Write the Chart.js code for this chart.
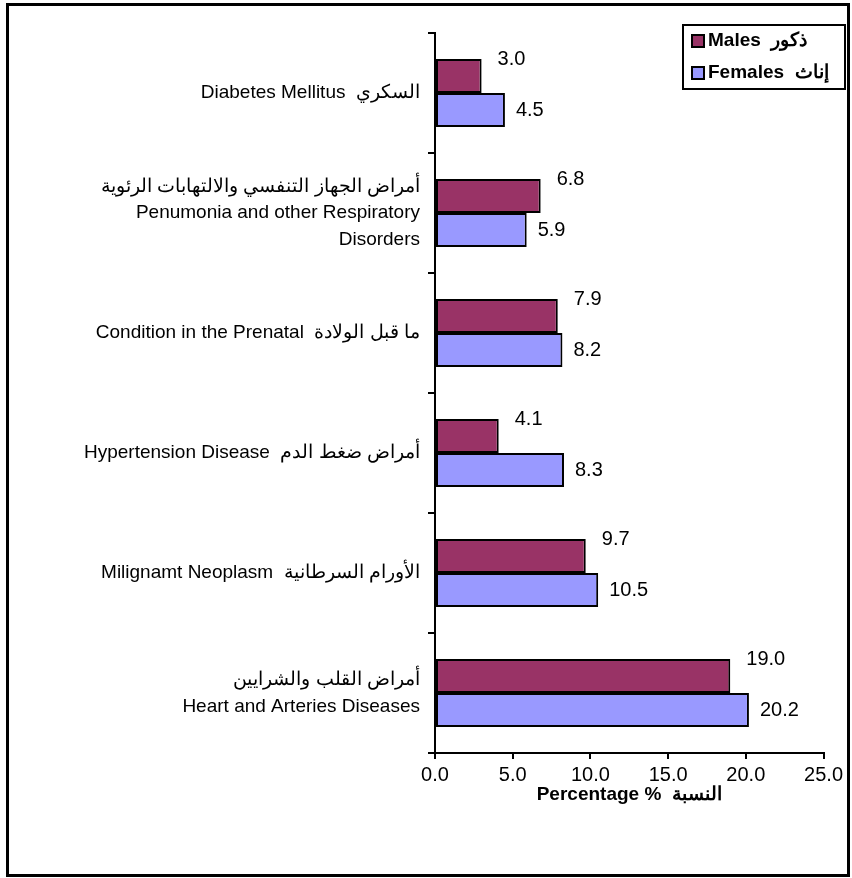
<!DOCTYPE html>
<html>
<head>
<meta charset="utf-8">
<script src="https://cdn.jsdelivr.net/npm/chart.js@4/dist/chart.umd.min.js"></script>
<style>
  body { margin: 0; background: #fff; }
  #frame { position: absolute; left: 6px; top: 3px; width: 838px; height: 868px; border: 3px solid #000; }
  canvas { display: block; }
</style>
</head>
<body>
<div id="frame"><canvas id="barChart" width="838" height="868"></canvas></div>
<script>
// Categories (top to bottom), English + Arabic
const categories = [
  'Diabetes Mellitus  السكري',
  ['أمراض الجهاز التنفسي والالتهابات الرئوية', 'Penumonia and other Respiratory', 'Disorders'],
  'Condition in the Prenatal  ما قبل الولادة',
  'Hypertension Disease  أمراض ضغط الدم',
  'Milignamt Neoplasm  الأورام السرطانية',
  ['أمراض القلب والشرايين', 'Heart and Arteries Diseases']
];
const malesValues = [3.0, 6.8, 7.9, 4.1, 9.7, 19.0];
const femalesValues = [4.5, 5.9, 8.2, 8.3, 10.5, 20.2];
const seriesNames = ['Males  ذكور', 'Females  إناث'];
const xTicks = [0, 5, 10, 15, 20, 25];
const axisTitle = 'Percentage %  النسبة';

const FONT = '"Liberation Sans", Arial, sans-serif';

// labels next to each bar
const valueLabels = {
  id: 'valueLabels',
  afterDatasetsDraw(chart) {
    const ctx = chart.ctx;
    ctx.save();
    ctx.font = '20px ' + FONT;
    ctx.fillStyle = '#000';
    ctx.textBaseline = 'middle';
    ctx.textAlign = 'left';
    chart.data.datasets.forEach((ds, i) => {
      chart.getDatasetMeta(i).data.forEach((bar, j) => {
        const dx = i === 0 ? 16 : 11;
        const dy = i === 0 ? -17 : 0;
        ctx.fillText(ds.data[j].toFixed(1), bar.x + dx, bar.y + dy);
      });
    });
    ctx.restore();
  }
};

// boxed legend in the top right corner
const boxLegend = {
  id: 'boxLegend',
  afterDraw(chart) {
    const ctx = chart.ctx;
    const x = 674, y = 19, w = 162, h = 64;
    ctx.save();
    ctx.fillStyle = '#fff';
    ctx.fillRect(x, y, w, h);
    ctx.lineWidth = 2;
    ctx.strokeStyle = '#000';
    ctx.strokeRect(x, y, w, h);
    ctx.font = 'bold 19px ' + FONT;
    ctx.textBaseline = 'middle';
    chart.data.datasets.forEach((ds, i) => {
      const cy = y + 16 + i * 32;
      ctx.fillStyle = ds.backgroundColor;
      ctx.fillRect(x + 9, cy - 6, 12, 12);
      ctx.strokeRect(x + 9, cy - 6, 12, 12);
      ctx.fillStyle = '#000';
      ctx.fillText(ds.label, x + 25, cy);
    });
    ctx.restore();
  }
};

const ctx = document.getElementById('barChart').getContext('2d');
const barChart = new Chart(ctx, {
  type: 'bar',
  data: {
    labels: categories,
    datasets: [{
      label: seriesNames[0],
      data: malesValues,
      backgroundColor: '#993366',
      borderColor: '#000',
      borderWidth: 2,
      borderSkipped: false
    }, {
      label: seriesNames[1],
      data: femalesValues,
      backgroundColor: '#9999FF',
      borderColor: '#000',
      borderWidth: 2,
      borderSkipped: false
    }]
  },
  options: {
    indexAxis: 'y',
    responsive: false,
    animation: false,
    categoryPercentage: 0.567,
    barPercentage: 1.0,
    layout: { padding: { left: 0, top: 27, right: 20, bottom: 65 } },
    plugins: {
      legend: { display: false },
      tooltip: { enabled: false }
    },
    scales: {
      x: {
        min: xTicks[0],
        max: xTicks[xTicks.length - 1],
        afterBuildTicks: (scale) => { scale.ticks = xTicks.map(v => ({ value: v })); },
        afterFit: (scale) => { scale.height = 56; },
        border: { color: '#000', width: 2 },
        grid: { drawOnChartArea: false, drawTicks: true, tickLength: 6, color: '#000', lineWidth: 2 },
        ticks: {
          color: '#000',
          font: { family: FONT, size: 20 },
          padding: 4,
          callback: (v) => Number(v).toFixed(1)
        },
        title: {
          display: true,
          text: axisTitle,
          color: '#000',
          font: { family: FONT, size: 19, weight: 'bold' },
          padding: { top: 0, bottom: 3 }
        }
      },
      y: {
        afterFit: (scale) => {
          scale.width = 426;
          scale.paddingTop = 0;
          scale.paddingBottom = 0;
        },
        border: { color: '#000', width: 2 },
        grid: { drawOnChartArea: false, drawTicks: true, tickLength: 7, color: '#000', lineWidth: 2 },
        ticks: {
          color: '#000',
          font: { family: FONT, size: 19, lineHeight: 1.4 },
          padding: 8
        }
      }
    }
  },
  plugins: [valueLabels, boxLegend]
});
</script>
</body>
</html>
